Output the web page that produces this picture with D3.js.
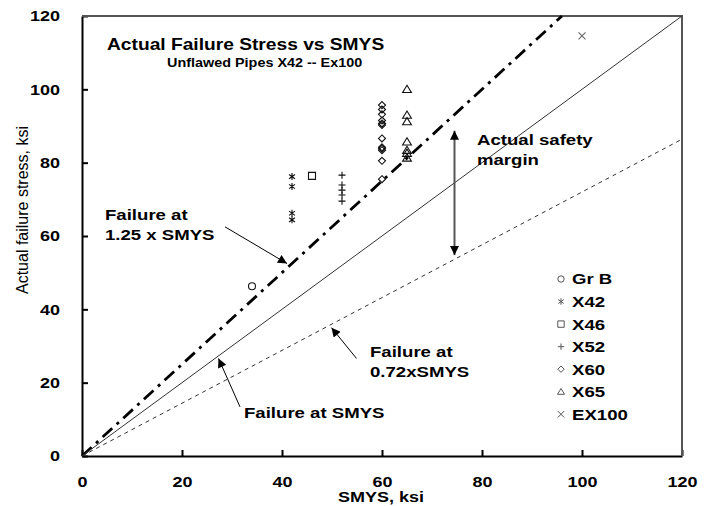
<!DOCTYPE html>
<html>
<head>
<meta charset="utf-8">
<script src="https://cdn.jsdelivr.net/npm/d3@7"></script>
<style>
  body { margin: 0; background: #fff; }
  svg { display: block; }
</style>
</head>
<body>
<svg width="704" height="506"></svg>
<script>
// data (ksi)
var grbX = [34], grbY = [46.3];
var x42X = [42, 42, 42, 42], x42Y = [76.2, 73.5, 66.2, 64.4];
var x46X = [46], x46Y = [76.4];
var x52X = [52, 52, 52, 52, 52], x52Y = [76.6, 73.9, 72.5, 71.2, 69.5];
var x60X = [60, 60, 60, 60, 60, 60, 60, 60, 60, 60, 60, 60];
var x60Y = [95.7, 94.5, 93.2, 91.5, 90.7, 90.3, 86.6, 84.2, 83.8, 83.4, 80.5, 75.5];
var x65X = [65, 65, 65, 65, 65, 65, 65], x65Y = [100, 93, 91.2, 85.7, 83.4, 82.6, 81.3];
var ex100X = [100], ex100Y = [114.6];

var gradeNames = ["Gr B", "X42", "X46", "X52", "X60", "X65", "EX100"];
var gradeSymbols = ["circle", "asterisk", "square", "plus", "diamond", "triangle", "cross"];

var tickValues = [0, 20, 40, 60, 80, 100, 120];
var factorLines = [1.25, 1, 0.72];   // failure at k x SMYS

var FONT = "Arial, 'Liberation Sans', sans-serif";
var sx = 1.2;   // the original's text is rendered wide

var svg = d3.select("svg");
var plotLeft = 82, plotTop = 16, plotW = 600, plotH = 440;

var xScale = d3.scaleLinear().domain([0, 120]).range([plotLeft, plotLeft + plotW]);
var yScale = d3.scaleLinear().domain([0, 120]).range([plotTop + plotH, plotTop]);

function symbolPath(kind, r) {
  if (kind == "circle") return "M" + r + ",0A" + r + "," + r + " 0 1,1 " + (-r) + ",0A" + r + "," + r + " 0 1,1 " + r + ",0Z";
  if (kind == "square") return "M" + (-r) + "," + (-r) + "H" + r + "V" + r + "H" + (-r) + "Z";
  if (kind == "diamond") return "M0," + (-r) + "L" + r + ",0L0," + r + "L" + (-r) + ",0Z";
  if (kind == "triangle") return "M0," + (-r) + "L" + (r * 1.1) + "," + (r * 0.8) + "L" + (-r * 1.1) + "," + (r * 0.8) + "Z";
  if (kind == "plus") return "M" + (-r) + ",0H" + r + "M0," + (-r) + "V" + r;
  if (kind == "cross") return "M" + (-r) + "," + (-r) + "L" + r + "," + r + "M" + (-r) + "," + r + "L" + r + "," + (-r);
  // asterisk
  return "M0," + (-r) + "V" + r + "M" + (-r * 0.85) + "," + (-r * 0.6) + "L" + (r * 0.85) + "," + (r * 0.6) +
    "M" + (-r * 0.85) + "," + (r * 0.6) + "L" + (r * 0.85) + "," + (-r * 0.6);
}

function label(x, y, str, size, weight, anchor) {
  return svg.append("text")
    .attr("transform", "translate(" + x + "," + y + ") scale(" + sx + ",1)")
    .attr("dy", "0.35em")
    .attr("text-anchor", anchor || "start")
    .style("font-family", FONT)
    .style("font-size", size + "px")
    .style("font-weight", weight || "bold")
    .text(str);
}

// arrow heads
var defs = svg.append("defs");
defs.append("marker")
  .attr("id", "head")
  .attr("viewBox", "0 0 10 10")
  .attr("refX", 10).attr("refY", 5)
  .attr("markerWidth", 11).attr("markerHeight", 9)
  .attr("markerUnits", "userSpaceOnUse")
  .attr("orient", "auto-start-reverse")
  .append("path").attr("d", "M0,0L10,5L0,10Z").attr("fill", "#000");
defs.append("marker")
  .attr("id", "bighead")
  .attr("viewBox", "0 0 10 10")
  .attr("refX", 10).attr("refY", 5)
  .attr("markerWidth", 9).attr("markerHeight", 12)
  .attr("markerUnits", "userSpaceOnUse")
  .attr("orient", "auto-start-reverse")
  .append("path").attr("d", "M0,0L10,5L0,10Z").attr("fill", "#000");

// axes, ticks pointing in
var yAxis = d3.axisLeft(yScale).tickValues(tickValues).tickSizeInner(-6).tickSizeOuter(0).tickPadding(22);
var xAxis = d3.axisBottom(xScale).tickValues(tickValues).tickSizeInner(-6).tickSizeOuter(0).tickPadding(20);

var yAxisG = svg.append("g").attr("transform", "translate(" + plotLeft + ",0)").call(yAxis);
var xAxisG = svg.append("g").attr("transform", "translate(0," + (plotTop + plotH) + ")").call(xAxis);

[yAxisG, xAxisG].forEach(function (g) {
  g.select(".domain").attr("stroke", "#000").attr("stroke-width", 2);
  g.selectAll(".tick line").attr("stroke", "#000").attr("stroke-width", 2);
  g.selectAll(".tick text")
    .style("font-family", FONT)
    .style("font-size", "15px")
    .style("font-weight", "bold")
    .attr("fill", "#000");
});
yAxisG.selectAll(".tick text").attr("x", -22 / sx).attr("transform", "scale(" + sx + ",1)");
xAxisG.selectAll(".tick text").attr("transform", "scale(" + sx + ",1)");

// top and right frame
svg.append("path")
  .attr("d", "M" + xScale(0) + "," + yScale(120) + "H" + xScale(120) + "V" + yScale(0))
  .attr("fill", "none")
  .attr("stroke", "#555")
  .attr("stroke-width", 2);

// failure lines
var line = d3.line().x(function (d) { return xScale(d[0]); }).y(function (d) { return yScale(d[1]); });
var lineStyles = {
  1.25: { w: 2.8, dash: "13,6,3,6", c: "#000" },
  1: { w: 1, dash: null, c: "#333" },
  0.72: { w: 1, dash: "4,4", c: "#333" }
};
factorLines.forEach(function (k) {
  var xEnd = Math.min(120, 120 / k);
  var st = lineStyles[k];
  svg.append("path")
    .attr("d", line([[0, 0], [xEnd, k * xEnd]]))
    .attr("fill", "none")
    .attr("stroke", st.c)
    .attr("stroke-width", st.w)
    .attr("stroke-dasharray", st.dash);
});

// data points
var series = [
  [grbX, grbY], [x42X, x42Y], [x46X, x46Y], [x52X, x52Y],
  [x60X, x60Y], [x65X, x65Y], [ex100X, ex100Y]
];
series.forEach(function (s, i) {
  var pts = s[0].map(function (x, j) { return [x, s[1][j]]; });
  svg.append("g").selectAll("path")
    .data(pts)
    .enter()
    .append("path")
    .attr("transform", function (d) { return "translate(" + xScale(d[0]) + "," + yScale(d[1]) + ")"; })
    .attr("d", symbolPath(gradeSymbols[i], gradeSymbols[i] == "triangle" ? 4 : 3.5))
    .attr("fill", "none")
    .attr("stroke", i == 6 ? "#666" : "#111")
    .attr("stroke-width", 1.1);
});

// legend
var legend = svg.append("g");
gradeNames.forEach(function (name, i) {
  var y = 279 + i * 22.55;
  legend.append("path")
    .attr("transform", "translate(561," + y + ")")
    .attr("d", symbolPath(gradeSymbols[i], 3.2))
    .attr("fill", "none")
    .attr("stroke", "#555")
    .attr("stroke-width", 1);
});
gradeNames.forEach(function (name, i) {
  label(572, 279 + i * 22.55, name, 15.5);
});

// titles
label(107, 44, "Actual Failure Stress vs SMYS", 16);
label(167, 63, "Unflawed Pipes X42 -- Ex100", 12);
label(381, 497, "SMYS, ksi", 15, "bold", "middle");
svg.append("text")
  .attr("transform", "translate(22,210) rotate(-90)")
  .attr("dy", "0.35em")
  .attr("text-anchor", "middle")
  .style("font-family", FONT)
  .style("font-size", "16px")
  .text("Actual failure stress, ksi");

// annotations
label(105, 215, "Failure at", 15.5);
label(105, 235, "1.25 x SMYS", 15.5);
label(370, 352, "Failure at", 15.5);
label(370, 372, "0.72xSMYS", 15.5);
label(244, 413, "Failure at SMYS", 15.5);
label(477, 140, "Actual safety", 15.5);
label(477, 160, "margin", 15.5);

var arrows = [
  [[28.6, 62.5], [41, 52.5]],
  [[54.9, 26.6], [49.9, 35]],
  [[31.6, 13.4], [27.3, 26.6]]
];
arrows.forEach(function (a) {
  svg.append("path")
    .attr("d", line(a))
    .attr("stroke", "#000")
    .attr("stroke-width", 1)
    .attr("marker-end", "url(#head)");
});

svg.append("path")
  .attr("d", line([[74.5, 54.8], [74.5, 88.7]]))
  .attr("stroke", "#555")
  .attr("stroke-width", 2)
  .attr("marker-start", "url(#bighead)")
  .attr("marker-end", "url(#bighead)");
</script>
</body>
</html>
